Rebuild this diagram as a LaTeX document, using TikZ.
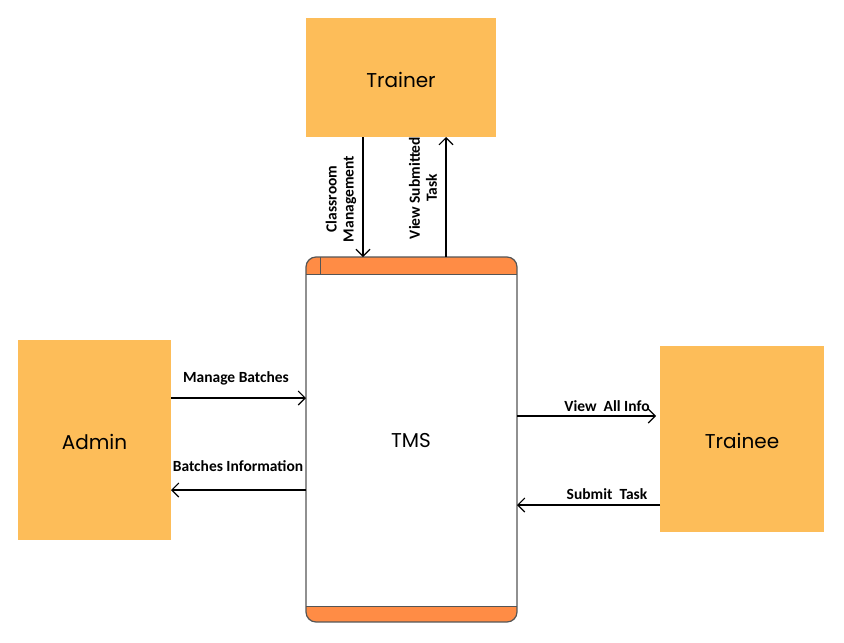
\documentclass[tikz,border=0pt]{standalone}
\usepackage{fontspec}
\setmainfont{Poppins}
\newfontfamily\lblfont{Carlito}
\usetikzlibrary{arrows.meta}
\definecolor{boxfill}{HTML}{FDBD59}
\definecolor{barfill}{HTML}{FF8C45}
\definecolor{edge}{HTML}{555555}
\tikzset{
  ent/.style={fill=boxfill, draw=none, font=\fontsize{20}{24}\selectfont},
  entlbl/.style={font=\fontsize{20}{24}\selectfont, inner sep=0pt},
  flow/.style={draw=black, line width=1.1pt, -{Straight Barb[length=7pt,width=14pt]}},
  lbl/.style={font=\lblfont\bfseries\fontsize{15.5}{17}\selectfont, inner sep=0pt},
}
\begin{document}
\begin{tikzpicture}[x=1pt,y=-1pt]
\useasboundingbox (0,0) rectangle (844,643);
\fill[white] (0,0) rectangle (844,643);
% entities
\node[ent, minimum width=190pt, minimum height=119pt] (trainer) at (401,77.5) {};
\node[ent, minimum width=153pt, minimum height=200pt] (admin) at (94.5,440) {};
\node[ent, minimum width=164pt, minimum height=186pt] (trainee) at (742,439) {};
\node[entlbl] (trainert) at (401,80) {Trainer};
\node[entlbl] (admint) at (94.5,441.5) {Admin};
\node[entlbl] (traineet) at (742,441) {Trainee};
% TMS process
\node[draw=none, minimum width=211pt, minimum height=365pt, inner sep=0pt] (tms) at (411.5,439.5) {};
\begin{scope}
\clip[rounded corners=10pt] (306,257) rectangle (517,622);
\fill[white] (306,257) rectangle (517,622);
\fill[barfill] (306,257) rectangle (517,274);
\fill[barfill] (306,606) rectangle (517,622);
\draw[edge, line width=1pt] (306,274) -- (517,274);
\draw[edge, line width=1pt] (306,606) -- (517,606);
\draw[edge, line width=1pt] (320,257) -- (320,274);
\end{scope}
\draw[edge, line width=1.2pt, rounded corners=10pt] (306,257) rectangle (517,622);
\node[entlbl] (tmslbl) at (411,441) {TMS};
% coordinates on TMS
\coordinate (t1) at (363,257);
\coordinate (t2) at (446,257);
\coordinate (tr1) at (363,137);
\coordinate (tr2) at (446,137);
\coordinate (l1) at (306,398);
\coordinate (l2) at (306,490);
\coordinate (a1) at (171,398);
\coordinate (a2) at (171,490);
\coordinate (r1) at (517,416);
\coordinate (r2) at (517,505);
\coordinate (e1) at (656,416);
\coordinate (e2) at (660,505);
% flows
\draw[flow] (tr1) -- (t1);
\draw[flow] (t2) -- (tr2);
\draw[flow] (a1) -- (l1);
\draw[flow] (l2) -- (a2);
\draw[flow] (r1) -- (e1);
\draw[flow] (e2) -- (r2);
% labels
\node[lbl, rotate=90, align=center] (lb1) at (341,199) {Classroom\\Management};
\node[lbl, rotate=90, align=center] (lb2) at (423,188) {View Submitted\\Task};
\node[lbl] (lb3) at (236,378) {Manage Batches};
\node[lbl] (lb4) at (238,466) {Batches Information};
\node[lbl] (lb5) at (607,406) {View\ \ All Info};
\node[lbl] (lb6) at (607,494) {Submit\ \ Task};
\end{tikzpicture}
\end{document}
